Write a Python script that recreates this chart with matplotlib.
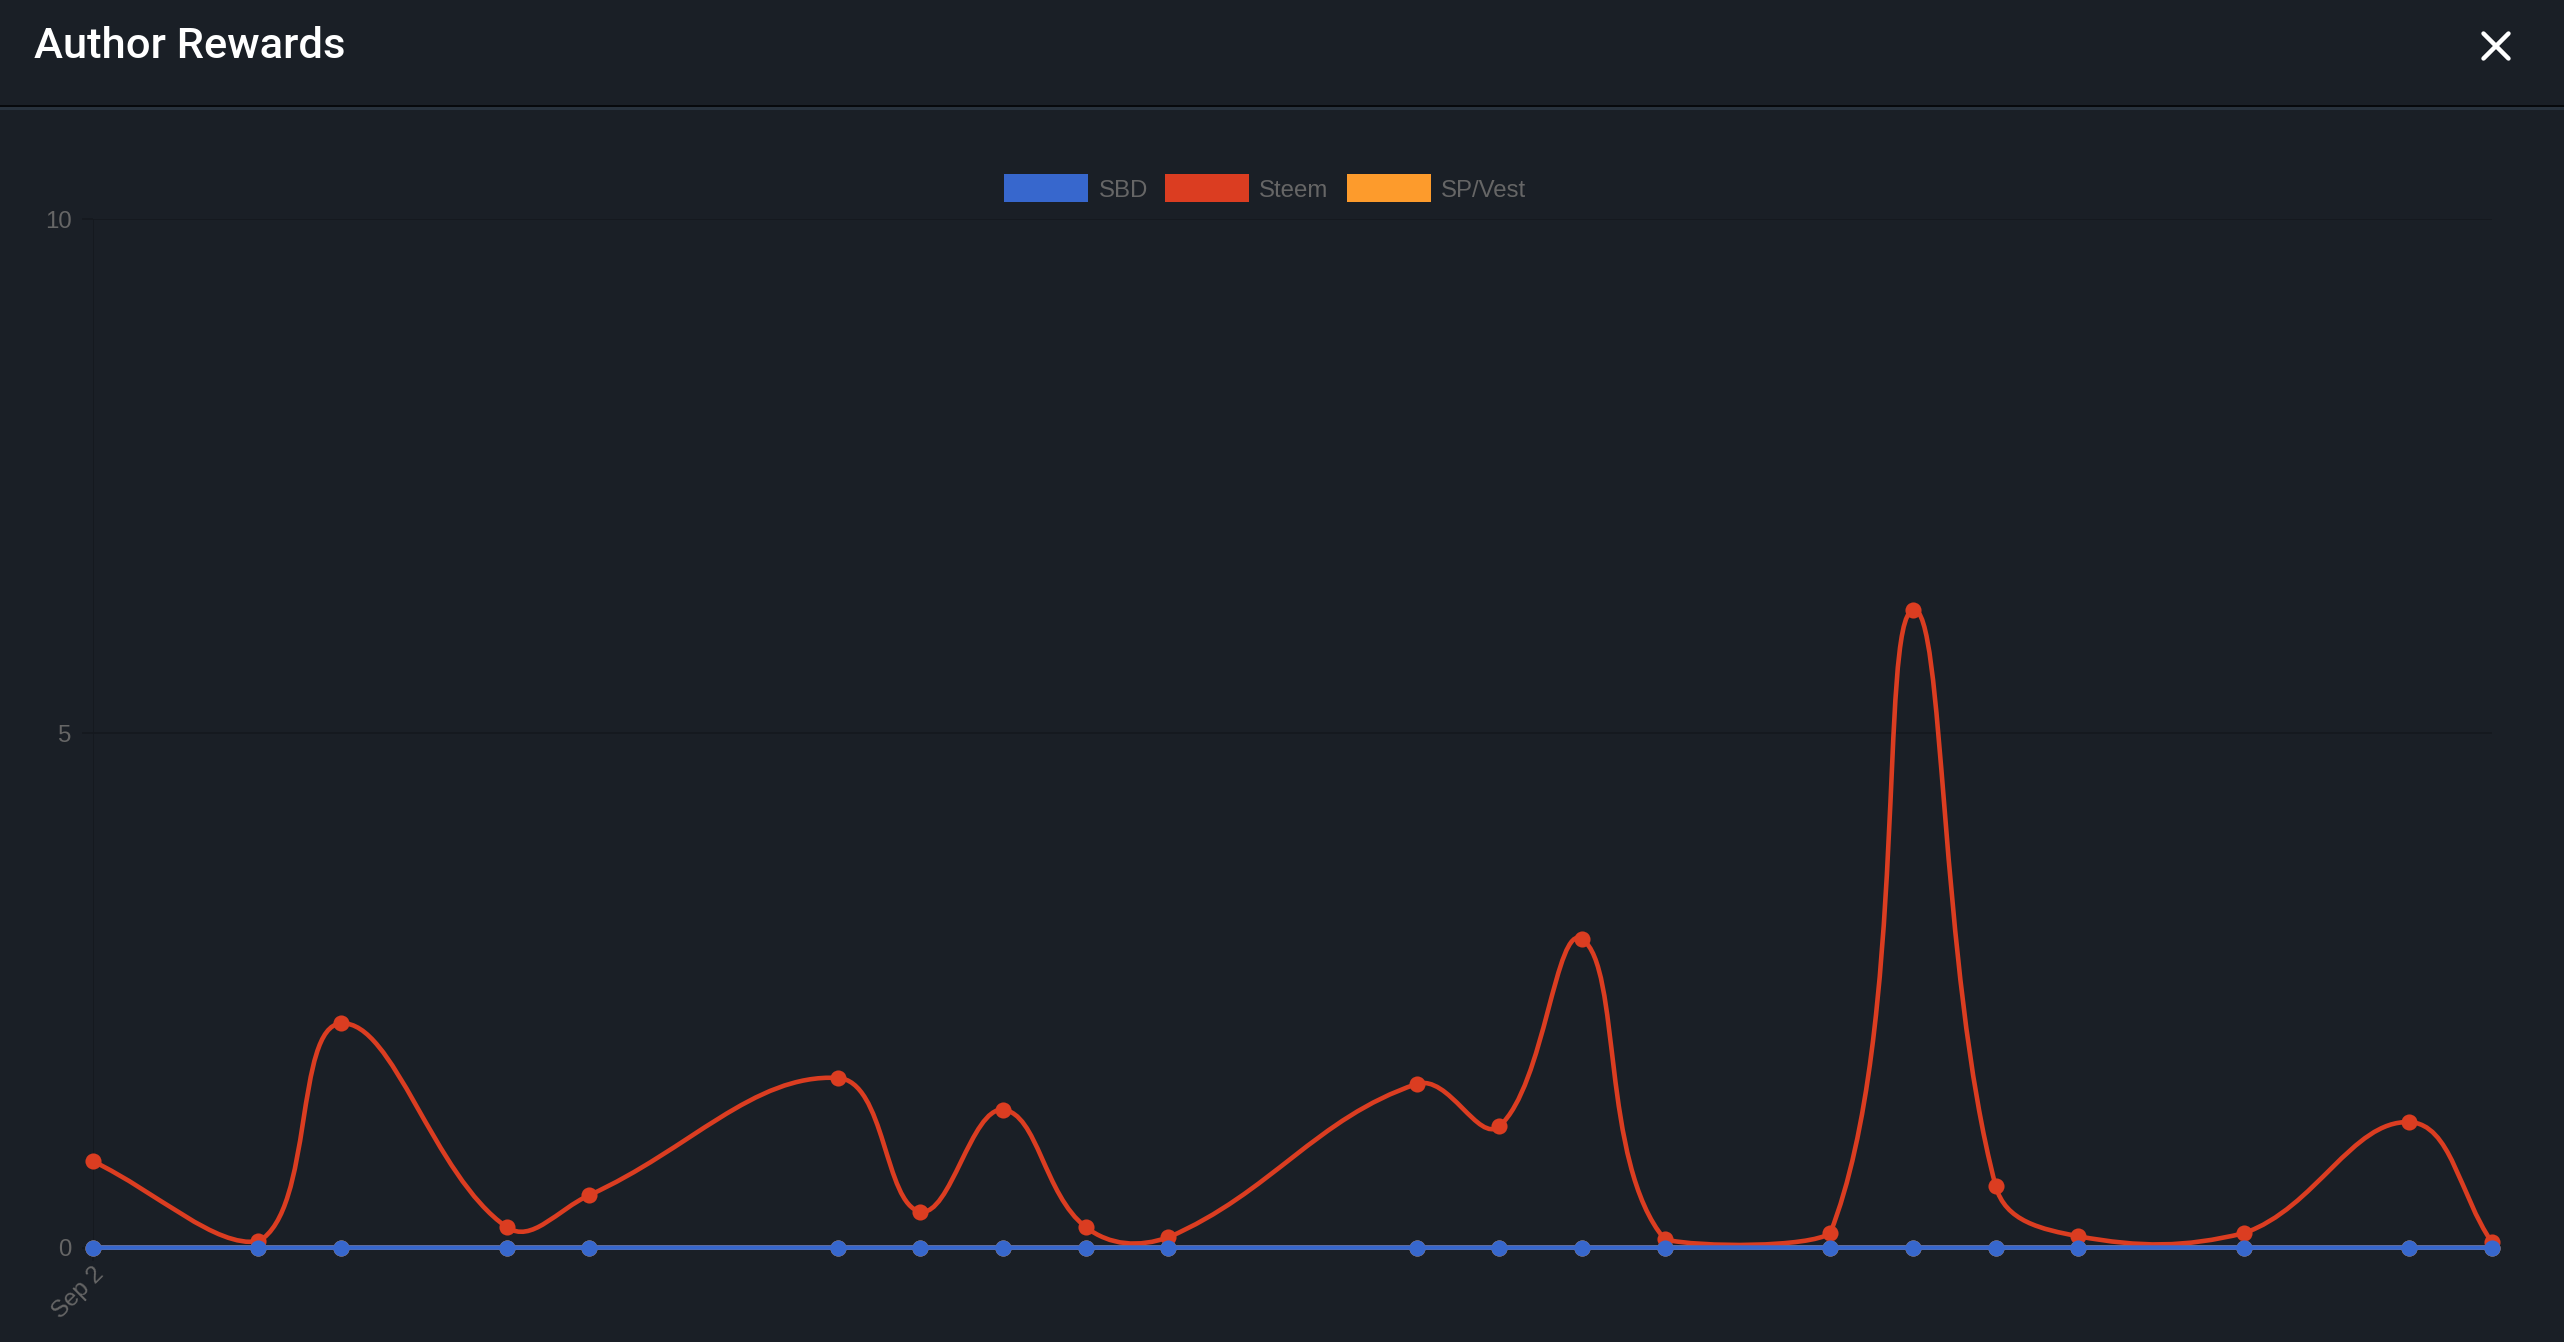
import numpy as np
import matplotlib
matplotlib.use("Agg")
import matplotlib.pyplot as plt
from matplotlib.path import Path
from matplotlib.patches import PathPatch, Rectangle
from matplotlib.lines import Line2D

# ---- data ----
days = [0, 2, 3, 5, 6, 9, 10, 11, 12, 13, 16, 17, 18, 19, 21, 22, 23, 24, 26, 28, 29]
steem = [0.84, 0.06, 2.18, 0.20, 0.51, 1.65, 0.35, 1.34, 0.20, 0.10, 1.59, 1.18,
         3.00, 0.08, 0.14, 6.20, 0.60, 0.11, 0.14, 1.22, 0.05]
sbd = [0.0] * len(days)
sp_vest = [0.0] * len(days)
y_ticks = [0, 5, 10]
x_tick_labels = ["Sep 2"]
series_names = ["SBD", "Steem", "SP/Vest"]
series_colors = ["#3767CD", "#DB3D21", "#FD9B2C"]

BG = "#1a1f26"
W, H = 2564, 1342
DPI = 100

fig = plt.figure(figsize=(W / DPI, H / DPI), dpi=DPI, facecolor=BG)

def fx(px):
    return px / W

def fy(py):
    return 1 - py / H

# header
fig.text(fx(34), fy(57.7), "Author Rewards", color="white", fontsize=31.3,
         family="Roboto", weight="medium", va="baseline", ha="left")
# close X
cx, cy, s = 2496, 46, 12.5
fig.add_artist(Line2D([fx(cx - s), fx(cx + s)], [fy(cy - s), fy(cy + s)],
                      color="white", lw=3.2, solid_capstyle="round"))
fig.add_artist(Line2D([fx(cx - s), fx(cx + s)], [fy(cy + s), fy(cy - s)],
                      color="white", lw=3.2, solid_capstyle="round"))
# separator
fig.add_artist(Rectangle((0, fy(107)), 1, 1.5 / H, color="#07090c", lw=0))
fig.add_artist(Rectangle((0, fy(109.5)), 1, 2.5 / H, color="#28323d", lw=0))

# legend
legend_boxes = [(1004, 1088, 1099), (1165, 1249, 1259), (1347, 1431, 1441)]
for (x0, x1, xt), name, col in zip(legend_boxes, series_names, series_colors):
    fig.add_artist(Rectangle((fx(x0), fy(202)), fx(x1 - x0), 28 / H, color=col, lw=0))
    fig.text(fx(xt), fy(196.7), name, color="#666666", fontsize=17.3,
             family="Liberation Sans", va="baseline", ha="left")

# axes
left, right, top, bottom = 93, 2492, 219, 1247.6
ax = fig.add_axes([fx(left), fy(bottom), fx(right - left), (bottom - top) / H])
ax.set_facecolor(BG)
ax.set_xlim(days[0], days[-1])
ax.set_ylim(0, 10)
for sp in ax.spines.values():
    sp.set_visible(False)

grid_col = "#14181e"
ax.set_yticks(y_ticks)
ax.set_yticklabels([str(v) for v in y_ticks])
ax.set_xticks([days[0]])
ax.set_xticklabels(x_tick_labels, rotation=45, ha="right", rotation_mode="anchor")
ax.tick_params(axis="y", colors=grid_col, labelcolor="#666666", length=8, width=1.2,
               pad=7.5, labelsize=17.3)
ax.tick_params(axis="x", colors=grid_col, labelcolor="#666666", length=9, width=1.2,
               pad=2, labelsize=17.3)
for lab in ax.get_yticklabels() + ax.get_xticklabels():
    lab.set_family("Liberation Sans")
ax.grid(True, color=grid_col, lw=1.2)
ax.set_axisbelow(True)

# Chart.js style spline (tension 0.4, capped to chart area)
def spline_path(xs, ys, tension=0.4):
    pts = ax.transData.transform(np.column_stack([xs, ys]))
    bb = ax.bbox
    n = len(pts)
    cps_prev, cps_next = [], []
    for i in range(n):
        p = pts[max(i - 1, 0)]
        c = pts[i]
        nx = pts[min(i + 1, n - 1)]
        d01 = np.hypot(*(c - p))
        d12 = np.hypot(*(nx - c))
        tot = d01 + d12
        s01 = d01 / tot if tot > 0 else 0
        s12 = d12 / tot if tot > 0 else 0
        fa, fb = tension * s01, tension * s12
        cp1 = c - fa * (nx - p)
        cp2 = c + fb * (nx - p)
        for cp in (cp1, cp2):
            cp[0] = min(max(cp[0], bb.x0), bb.x1)
            cp[1] = min(max(cp[1], bb.y0), bb.y1)
        cps_prev.append(cp1)
        cps_next.append(cp2)
    verts = [pts[0]]
    codes = [Path.MOVETO]
    for i in range(n - 1):
        verts += [cps_next[i], cps_prev[i + 1], pts[i + 1]]
        codes += [Path.CURVE4] * 3
    verts = ax.transData.inverted().transform(np.array(verts))
    return Path(verts, codes)

line_w = 3.3
msize = 11.6
# draw in reverse order so SBD ends on top
for vals, col, z in [(sp_vest, series_colors[2], 3), (steem, series_colors[1], 4), (sbd, series_colors[0], 5)]:
    ax.add_patch(PathPatch(spline_path(days, vals), fill=False, edgecolor=col,
                           lw=line_w, zorder=z, clip_on=False, capstyle="round"))
    ax.plot(days, vals, linestyle="none", marker="o", markersize=msize,
            color=col, markeredgewidth=0, zorder=z + 0.5, clip_on=False)

fig.savefig("out.png", dpi=DPI, facecolor=BG)
